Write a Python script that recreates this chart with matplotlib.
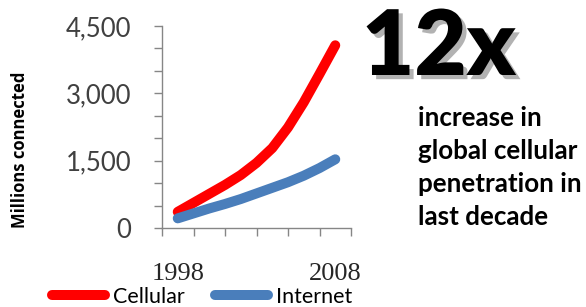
import matplotlib
matplotlib.use("Agg")
import matplotlib.pyplot as plt
import matplotlib.patheffects as pe

# values (millions connected)
years = [1998, 1999, 2000, 2001, 2002, 2003, 2004, 2005, 2006, 2007, 2008]
cellular = [360, 560, 760, 960, 1180, 1450, 1780, 2240, 2800, 3430, 4070]
internet = [215, 325, 435, 535, 645, 770, 895, 1020, 1165, 1335, 1530]
series_names = ["Cellular", "Internet"]
year_labels = [1998, 2008]
y_major = [0, 1500, 3000, 4500]
side_lines = ["increase in", "global cellular", "penetration in", "last decade"]

W, H = 586, 307
fig = plt.figure(figsize=(W / 100, H / 100), dpi=100)
ax = fig.add_axes([162 / W, 1 - 228 / H, (351 - 162) / W, (228 - 26) / H])

grey = "#868686"
red = "#ff0000"
blue = "#4a7ebb"

l1, = ax.plot(years, cellular, color=red, lw=7.2, solid_capstyle="round",
              solid_joinstyle="round", label=series_names[0])
l2, = ax.plot(years, internet, color=blue, lw=7.2, solid_capstyle="round",
              solid_joinstyle="round", label=series_names[1])

ax.set_xlim(1997, 2009)
ax.set_ylim(0, 4500)

for s in ["top", "right"]:
    ax.spines[s].set_visible(False)
for s in ["left", "bottom"]:
    ax.spines[s].set_color(grey)
    ax.spines[s].set_linewidth(1.0)

ax.set_yticks(y_major)
ax.set_yticklabels([f"{v:,}" for v in y_major])
ax.set_yticks(range(0, 4501, 500), minor=True)
ax.tick_params(axis="y", which="both", direction="out", length=6, width=1,
               color=grey)
ax.tick_params(axis="y", which="major", pad=16, labelsize=18.5,
               labelcolor="#404040")
for t in ax.get_yticklabels():
    t.set_family("Lato")

ax.set_xticks(year_labels)
ax.set_xticklabels([str(y) for y in year_labels], family="Liberation Serif")
ax.set_xticks(range(1997, 2010, 2), minor=True)
ax.tick_params(axis="x", which="minor", direction="out", length=6, width=1,
               color=grey)
ax.tick_params(axis="x", which="major", length=0, pad=25, labelsize=19,
               labelcolor="#262626")

fig.text(20 / W, 1 - 150 / H, "Millions connected", rotation=90,
         ha="center", va="center", fontsize=12, fontweight="bold",
         family="Open Sans")

fig.legend(handles=[l1, l2], labels=series_names, ncol=2, loc="center left",
           bbox_to_anchor=(52 / W, 1 - 297 / H), frameon=False,
           borderpad=0, borderaxespad=0, handlelength=2.47,
           handletextpad=0.37, columnspacing=1.4,
           prop={"family": "Lato", "size": 15.5})

fig.text(362 / W, 1 - 75 / H, "12x", ha="left", va="baseline", fontsize=65,
         fontweight="heavy", family="Lato", color="black",
         path_effects=[pe.SimplePatchShadow(offset=(3, -3),
                                            shadow_rgbFace="#7f7f7f",
                                            alpha=0.6),
                       pe.Normal()])

for i, line in enumerate(side_lines):
    fig.text(418 / W, 1 - (126 + 33 * i) / H, line, ha="left",
             va="baseline", fontsize=18.7, fontweight="bold", family="Lato",
             color="black")

fig.savefig("out.png", dpi=100)
